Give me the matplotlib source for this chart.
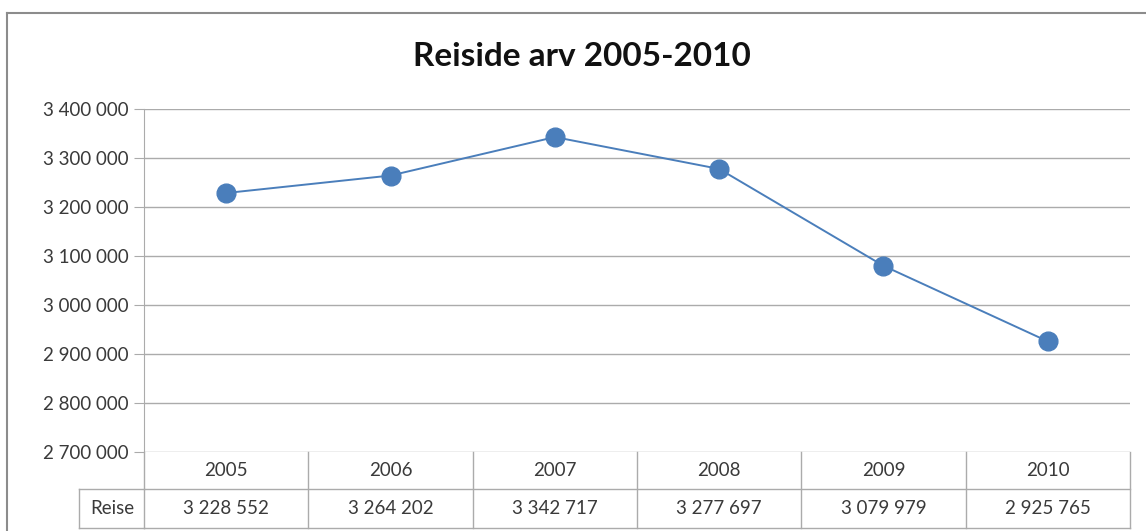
import matplotlib.pyplot as plt
from matplotlib.ticker import FuncFormatter
from matplotlib.lines import Line2D
import matplotlib.transforms as mtransforms

plt.rcParams['font.family'] = ['Lato', 'DejaVu Sans']

years = ['2005', '2006', '2007', '2008', '2009', '2010']
reise = [3228552, 3264202, 3342717, 3277697, 3079979, 2925765]
series_name = 'Reise'
title = 'Reiside arv 2005-2010'

BLUE = '#4a7ebb'
GRID = '#ababab'
TEXT = '#3a3a3a'
FS = 13.5


def fmt(v, pos=None):
    return f'{int(v):,}'.replace(',', ' ')


fig = plt.figure(figsize=(11.46, 5.31), dpi=100)
W, H = 1146, 531


def fx(px):
    return px / W


def fy(py):
    return 1 - py / H


ax = fig.add_axes([fx(144), fy(452), fx(1130) - fx(144), fy(109) - fy(452)])
x = list(range(len(years)))
ax.plot(x, reise, color=BLUE, lw=1.4, marker='o', ms=13.5,
        markerfacecolor=BLUE, markeredgecolor=BLUE, zorder=3)
ax.set_xlim(-0.5, len(years) - 0.5)
ax.set_ylim(2700000, 3400000)
ax.set_yticks(range(2700000, 3400001, 100000))
ax.yaxis.set_major_formatter(FuncFormatter(fmt))
ax.grid(axis='y', color=GRID, lw=1)
ax.set_axisbelow(True)
for s in ['top', 'right', 'bottom']:
    ax.spines[s].set_visible(False)
ax.spines['left'].set_color(GRID)
ax.tick_params(axis='y', length=7, color=GRID, labelsize=FS,
               labelcolor=TEXT, pad=4)
ax.tick_params(axis='x', bottom=False, labelbottom=False)

# data table below the axis
trans = mtransforms.blended_transform_factory(ax.transData, fig.transFigure)
row1_top, row1_bot, row2_bot = fy(452), fy(489), fy(528)
lkw = dict(color=GRID, lw=1, transform=trans, clip_on=False)
fig.add_artist(Line2D([-0.5, 5.5], [row1_bot, row1_bot], **lkw))
fig.add_artist(Line2D([-0.5, 5.5], [row2_bot, row2_bot], **lkw))
for i in range(len(years) + 1):
    xb = i - 0.5
    fig.add_artist(Line2D([xb, xb], [row1_top, row2_bot], **lkw))
for i, (yr, v) in enumerate(zip(years, reise)):
    fig.text(i, (row1_top + row1_bot) / 2, yr, transform=trans,
             ha='center', va='center', fontsize=FS, color=TEXT)
    fig.text(i, (row1_bot + row2_bot) / 2, fmt(v), transform=trans,
             ha='center', va='center', fontsize=FS, color=TEXT)

# series label cell
fkw = dict(color=GRID, lw=1, transform=fig.transFigure)
fig.add_artist(Line2D([fx(79), fx(144)], [row1_bot, row1_bot], **fkw))
fig.add_artist(Line2D([fx(79), fx(144)], [row2_bot, row2_bot], **fkw))
fig.add_artist(Line2D([fx(79), fx(79)], [row1_bot, row2_bot], **fkw))
fig.text(fx(112), (row1_bot + row2_bot) / 2, series_name, ha='center',
         va='center', fontsize=FS, color=TEXT)

# outer chart border (left and top visible)
bkw = dict(color='#8c8c8c', lw=1.5, transform=fig.transFigure)
fig.add_artist(Line2D([fx(7), fx(7)], [fy(13), 0], **bkw))
fig.add_artist(Line2D([fx(7), 1], [fy(13), fy(13)], **bkw))

fig.text(fx(582), fy(57), title, ha='center', va='center',
         fontsize=24, fontweight='bold', color='#111111')

fig.savefig('out.png', dpi=100)
